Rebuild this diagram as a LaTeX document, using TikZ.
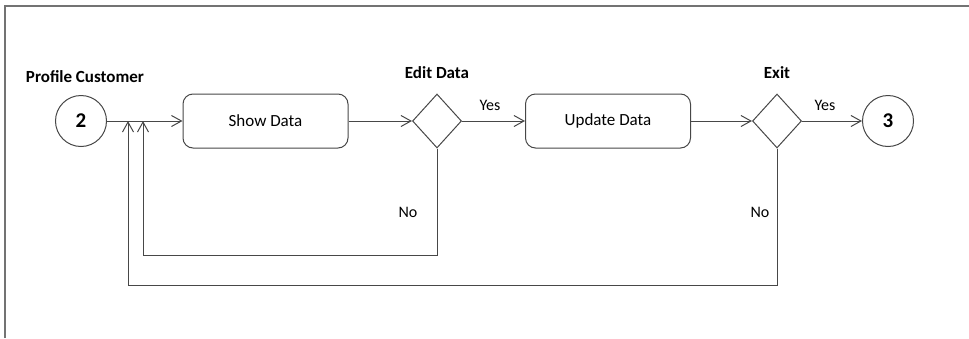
\documentclass[tikz,border=0pt]{standalone}
\usepackage{fontspec}
\setmainfont{Carlito}
\usetikzlibrary{shapes.geometric,arrows.meta}
\begin{document}
\begin{tikzpicture}[x=1pt,y=-1pt,
  line/.style={draw=black!72, line width=1pt},
  arr/.style={line, -{Straight Barb[length=10pt,width=11pt]}},
  proc/.style={line, rounded corners=10pt, minimum width=165pt, minimum height=54pt, font=\fontsize{17}{19}\selectfont},
  dec/.style={line, diamond, minimum width=49pt, minimum height=54pt, inner sep=0pt},
  term/.style={line, circle, minimum size=51pt, inner sep=0pt, font=\fontsize{21}{23}\selectfont\bfseries},
  lab/.style={font=\fontsize{16}{18}\selectfont},
  blab/.style={font=\fontsize{17}{19}\selectfont\bfseries}]
\useasboundingbox (0,0) rectangle (969,338);
\draw[black!55, line width=1.5pt] (5,338) -- (5,6) -- (969,6);

\node[term] (c2) at (81,121) {2};
\node[proc] (show) at (265.5,121) {Show Data};
\node[dec] (d1) at (437,121) {};
\node[proc] (upd) at (608,121) {Update Data};
\node[dec] (d2) at (777,121) {};
\node[term] (c3) at (888,121) {3};

\node[blab] (t1) at (85,77) {Profile Customer};
\node[blab] (t2) at (437,73) {Edit Data};
\node[blab] (t3) at (777,73) {Exit};
\node[lab] (y1) at (490,105) {Yes};
\node[lab] (y2) at (825,105) {Yes};
\node[lab] (n1) at (408,212) {No};
\node[lab] (n2) at (760,212) {No};

\coordinate (in1) at (143,121);
\coordinate (in2) at (128,121);

\draw[arr] (c2) -- (show);
\draw[arr] (show) -- (d1);
\draw[arr] (d1) -- (upd);
\draw[arr] (upd) -- (d2);
\draw[arr] (d2) -- (c3);
\draw[arr] (d1.south) |- (in1 |- 0,255) -- (in1);
\draw[arr] (d2.south) |- (in2 |- 0,285) -- (in2);
\end{tikzpicture}
\end{document}
